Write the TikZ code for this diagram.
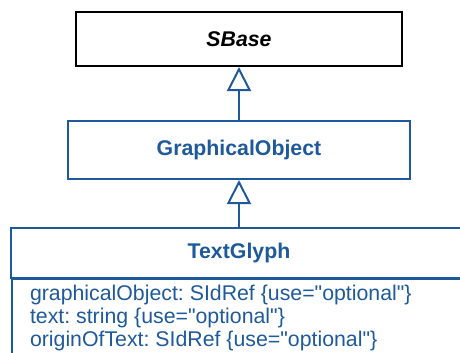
\documentclass[tikz,border=0pt]{standalone}
\usepackage{fontspec}
\setmainfont{Liberation Sans}
\newfontfamily\umlfont{Liberation Sans}
\usetikzlibrary{arrows.meta}
\definecolor{umlblue}{RGB}{30,90,155}
\frenchspacing

\begin{document}
\begin{tikzpicture}[x=1pt,y=-1pt]
        \tikzstyle{every node} = [rectangle, inner sep=0pt, line width=2pt]
        \useasboundingbox (0,0) rectangle (460,353);
        \node[draw, minimum width=326pt, minimum height=54pt, font=\fontsize{21.3}{24}\selectfont\bfseries\itshape] (sbase) at (239,39) {SBase};
        \node[draw=umlblue, text=umlblue, minimum width=342pt, minimum height=58pt, font=\fontsize{21.3}{24}\selectfont\bfseries] (graphobj) at (239,150) {GraphicalObject};
        \node[draw=umlblue, text=umlblue, minimum width=456pt, minimum height=50pt, font=\fontsize{21.3}{24}\selectfont\bfseries] (textglyph) at (239,253) {TextGlyph};
        \node[draw=umlblue, anchor=north west, minimum width=456pt, minimum height=100pt] (attrs) at (11,278) {};
        \node[text=umlblue, anchor=north west, align=left, font=\umlfont\fontsize{21.3}{23}\selectfont] (attrtext) at (29,284) {graphicalObject: SIdRef \{use="optional"\}\\text: string \{use="optional"\}\\originOfText: SIdRef \{use="optional"\}};
        \foreach \from/\to in {graphobj/sbase, textglyph/graphobj}
            \draw[umlblue, line width=2pt, -{Triangle[open, length=24pt, width=24pt]}] (\from) -- (\to);
\end{tikzpicture}
\end{document}
